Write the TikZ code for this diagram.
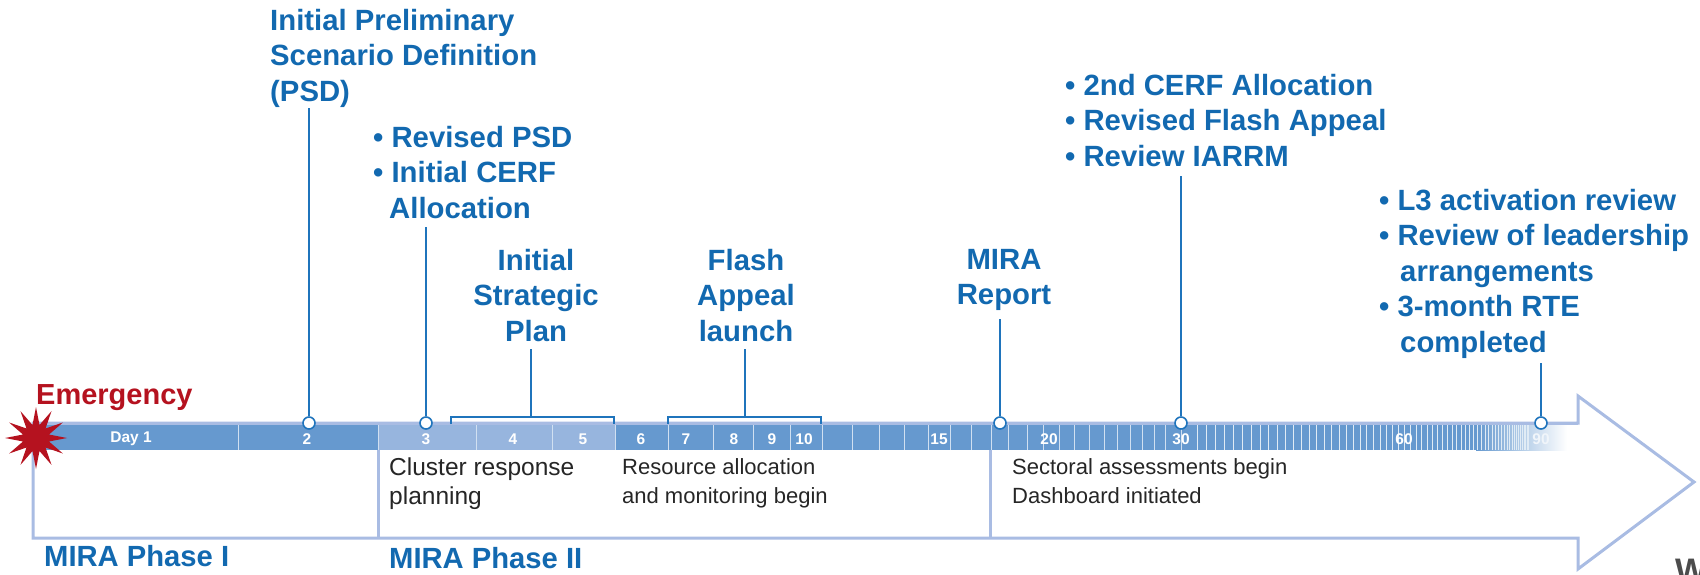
\documentclass[tikz,border=0pt]{standalone}
\usepackage{fontspec}
\setmainfont{Liberation Sans}
\usetikzlibrary{shapes.geometric}
\definecolor{barblue}{HTML}{6699CF}
\definecolor{barlight}{HTML}{97B5DE}
\definecolor{outlineblue}{HTML}{A9BCE3}
\definecolor{labelblue}{HTML}{1269B0}
\definecolor{stemblue}{HTML}{1F74BC}
\definecolor{starred}{HTML}{B5121F}
\tikzset{
  milestone/.style={anchor=north west,inner sep=0pt,align=left,text=labelblue,
    font=\bfseries\fontsize{29.3}{35.5}\selectfont},
  centered/.style={milestone,anchor=north,align=center},
  phaselabel/.style={anchor=base west,inner sep=0pt,text=labelblue,
    font=\bfseries\fontsize{29.2}{32}\selectfont},
  body/.style={anchor=north west,inner sep=0pt,align=left,text=black!85,
    font=\fontsize{22}{29}\selectfont},
  day/.style={inner sep=0pt,text=white,font=\bfseries\fontsize{15.5}{18}\selectfont},
  marker/.style={draw=stemblue,fill=white,circle,line width=1.6pt,minimum size=12pt,inner sep=0pt},
  stem/.style={draw=stemblue,line width=2.4pt},
}
\newcommand{\ind}{\hspace*{16pt}}
\begin{document}
\begin{tikzpicture}[x=1pt,y=-1pt]
  \useasboundingbox (0,0) rectangle (1700,574);
  % Outline arrow
  \draw[outlineblue,line width=3pt,fill=white,line join=miter]
    (33,423) -- (1578,423) -- (1578,396) -- (1694,482) -- (1578,569) -- (1578,538) -- (33,538) -- cycle;
  \draw[outlineblue,line width=3pt] (378,450) -- (378,538);
  \draw[outlineblue,line width=3pt] (990,450) -- (990,538);

  % Day bar
  \fill[barblue] (33,424) rectangle (1476,450);
  \fill[barlight] (378,424) rectangle (615,450);
  \shade[left color=barblue,right color=white,shading=axis] (1476,424) rectangle (1567,450);
  \foreach \x in {238,378,476,552,615,668,713,753,790,822,852,879,904,928,950,971,991,1008,1027,1043,1059,1074,1089,1104,1117,1130,1142,1154,1165,1181}
    \draw[white!70!barblue,line width=1pt] (\x,424) -- (\x,450);
  \foreach \i in {0,...,62} {
    \pgfmathsetmacro{\tx}{1197+9.5*\i-0.067*\i*\i}
    \draw[white!80!barblue,line width=1pt] (\tx,424) -- (\tx,450);
  }
  \draw[outlineblue,line width=3pt] (33,423) -- (1578,423);

  % Day numbers
  \node[day] (d1) at (131,439) {Day 1};
  \node[day] (d2) at (307,439) {2};
  \node[day] (d3) at (426,439) {3};
  \node[day] (d4) at (513,439) {4};
  \node[day] (d5) at (583,439) {5};
  \node[day] (d6) at (641,439) {6};
  \node[day] (d7) at (686,439) {7};
  \node[day] (d8) at (734,439) {8};
  \node[day] (d9) at (772,439) {9};
  \node[day] (d10) at (804,439) {10};
  \node[day] (d15) at (939,439) {15};
  \node[day] (d20) at (1049,439) {20};
  \node[day] (d30) at (1181,439) {30};
  \node[day] (d60) at (1404,439) {60};
  \node[day,text=white!90!barblue] (d90) at (1541,439) {90};

  % Milestone labels
  \node[milestone] (psd) at (270,9) {Initial Preliminary\\Scenario Definition\\(PSD)};
  \node[milestone] (revised) at (373,126) {• Revised PSD\\• Initial CERF\\\ind Allocation};
  \node[centered] (plan) at (536,249) {Initial\\Strategic\\Plan};
  \node[centered] (flash) at (746,249) {Flash\\Appeal\\launch};
  \node[centered] (report) at (1004,249) {MIRA\\Report};
  \node[milestone] (cerf) at (1065,74) {• 2nd CERF Allocation\\• Revised Flash Appeal\\• Review IARRM};
  \node[milestone] (review) at (1379,189) {• L3 activation review\\• Review of leadership\\\hspace*{21pt}arrangements\\• 3-month RTE\\\hspace*{21pt}completed};

  % Markers on the bar
  \node[marker] (m2) at (309,423) {};
  \node[marker] (m3) at (426,423) {};
  \node[marker] (m20) at (1000,423) {};
  \node[marker] (m30) at (1181,423) {};
  \node[marker] (m90) at (1541,423) {};

  % Stems
  \draw[stem] (m2) -- (m2 |- psd.south);
  \draw[stem] (m3) -- ([yshift=-8pt]m3 |- revised.south);
  \draw[stem] (m20) -- ([yshift=-8pt]m20 |- report.south);
  \draw[stem] (m30) -- ([yshift=-9pt]m30 |- cerf.south);
  \draw[stem] (m90) -- ([yshift=-4pt]m90 |- review.south);

  % Brackets
  \coordinate (pa) at (451,424);
  \coordinate (pb) at (614,424);
  \coordinate (pt) at (531,417);
  \draw[stem] (pa) |- (pt) -| (pb);
  \draw[stem] (pt) -- ([yshift=-7pt]pt |- plan.south);
  \coordinate (fa) at (668,424);
  \coordinate (fb) at (821,424);
  \coordinate (ft) at (745,417);
  \draw[stem] (fa) |- (ft) -| (fb);
  \draw[stem] (ft) -- ([yshift=-7pt]ft |- flash.south);

  % Emergency
  \node[star,star points=12,star point ratio=2.3,fill=starred,minimum size=62pt,inner sep=0pt] (burst) at (36,438) {};
  \node[anchor=base west,inner sep=0pt,text=starred,font=\bfseries\fontsize{29}{32}\selectfont] (emergency) at (36,404) {Emergency};

  % Text under the bar
  \node[body,font=\fontsize{24.5}{29}\selectfont] (cluster) at (389,458) {Cluster response\\planning};
  \node[body] (resource) at (622,458) {Resource allocation\\and monitoring begin};
  \node[body] (sector) at (1012,458) {Sectoral assessments begin\\Dashboard initiated};

  % Phases
  \node[phaselabel] (phase1) at (44,566) {MIRA Phase I};
  \node[phaselabel] (phase2) at (389,568) {MIRA Phase II};
  \node[anchor=north west,inner sep=0pt,text=black!70,font=\bfseries\fontsize{34}{36}\selectfont] (cut) at (1675,559) {W};
\end{tikzpicture}
\end{document}
